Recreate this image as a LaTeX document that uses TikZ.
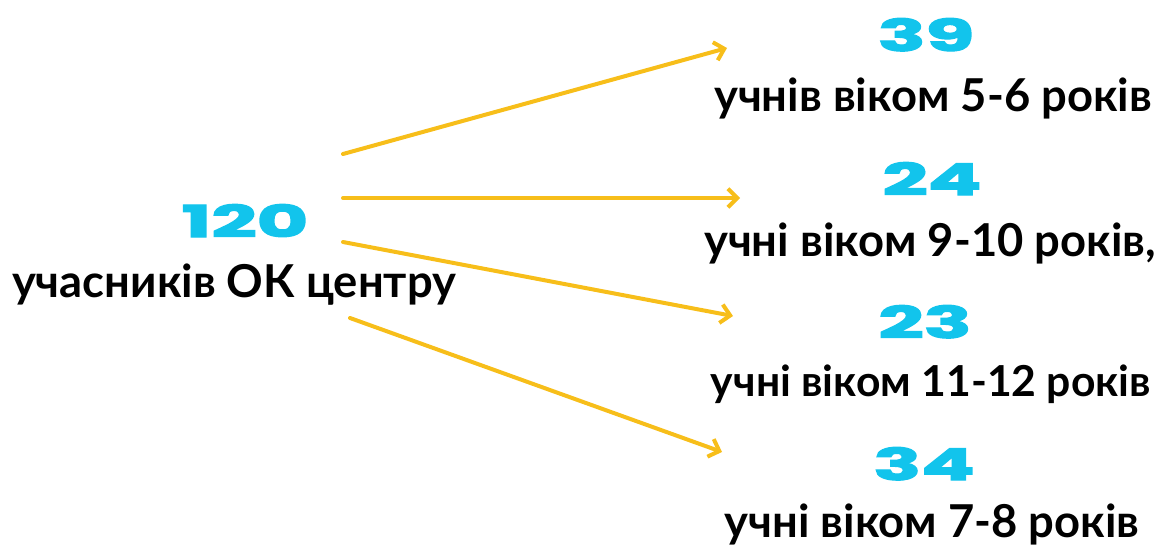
\documentclass[tikz,border=0pt]{standalone}
\usepackage{fontspec}
\setmainfont{Lato}
\newfontfamily\numfont[BoldFeatures={FakeBold=2.5}]{Poppins}
\usepackage{xcolor}
\usetikzlibrary{arrows.meta, positioning}
\definecolor{numcyan}{HTML}{12C4EC}
\definecolor{arrowgold}{HTML}{F7BE1A}
\newcommand{\wide}[1]{\scalebox{1.8}[1]{#1}}

\begin{document}
\begin{tikzpicture}[
		x=0.75pt, y=-0.75pt,
		count/.style={anchor=base, inner sep=0pt, text=numcyan, font=\numfont\bfseries\fontsize{33}{33}\selectfont},
		caption/.style={anchor=base, inner sep=0pt, font=\bfseries\fontsize{34}{36}\selectfont},
		link/.style={-{Straight Barb[length=7pt, width=14pt, line width=3pt]}, line width=3pt, draw=arrowgold, line cap=round},
		]
	
		\useasboundingbox (0,0) rectangle (1161,546);
	
		% --- source ---
		\node[count] (total) at (245,237) {\wide{120}};
		\node[caption] (totaltxt) at (234,297) {учасників ОК центру};
	
		% --- groups ---
		\node[count] (n1) at (926,51) {\wide{39}};
		\node[caption] (g1) at (933,111) {учнів віком 5-6 років};
		\node[count] (n2) at (932,195) {\wide{24}};
		\node[caption] (g2) at (930,256) {учні віком 9-10 років,};
		\node[count] (n3) at (925,338) {\wide{23}};
		\node[caption, font=\bfseries\fontsize{32}{36}\selectfont] (g3) at (931,396) {учні віком 11-12 років};
		\node[count] (n4) at (924,480) {\wide{34}};
		\node[caption] (g4) at (932,537) {учні віком 7-8 років};
	
		% --- arrows ---
		\coordinate (s1) at (343,154);
		\coordinate (s2) at (343,198);
		\coordinate (s3) at (343,242);
		\coordinate (s4) at (350,318);
		\coordinate (e1) at (727,48);
		\coordinate (e2) at (740,198);
		\coordinate (e3) at (733,316);
		\coordinate (e4) at (722,452);
	
		\draw[link] (s1) -- (e1);
		\draw[link] (s2) -- (e2);
		\draw[link] (s3) -- (e3);
		\draw[link] (s4) -- (e4);
	
	\end{tikzpicture}
\end{document}
